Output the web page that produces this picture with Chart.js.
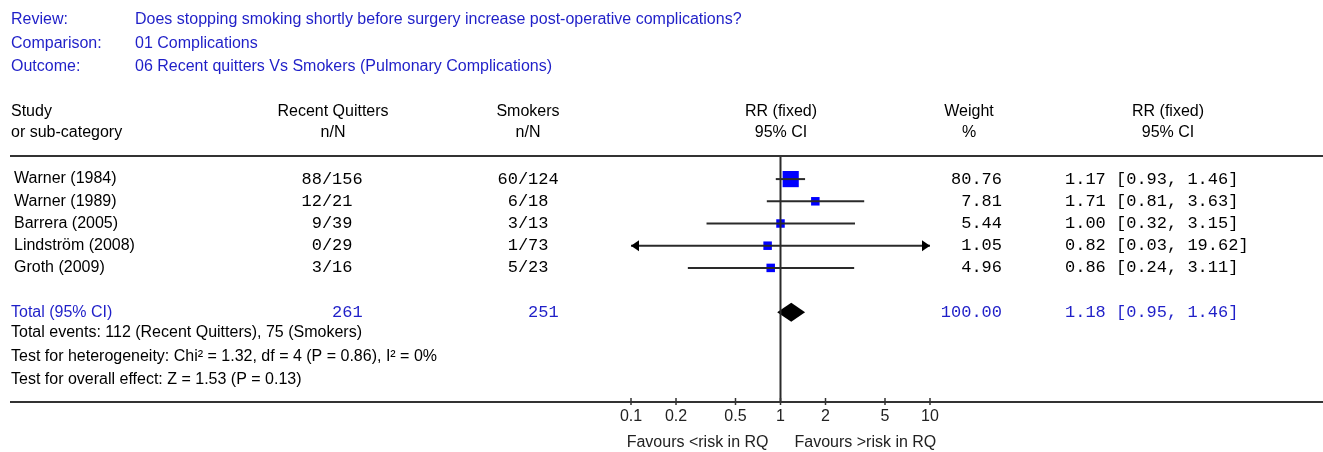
<!DOCTYPE html>
<html>
<head>
<meta charset="utf-8">
<script src="https://cdn.jsdelivr.net/npm/chart.js@4"></script>
<style>
  html, body { margin: 0; padding: 0; background: #fff; }
  canvas { display: block; }
</style>
</head>
<body>
<canvas id="chart" width="1323" height="452"></canvas>
<script>
// data
const studies = ["Warner (1984)", "Warner (1989)", "Barrera (2005)", "Lindström (2008)", "Groth (2009)"];
const rqEvents = [88, 12, 9, 0, 3];
const rqTotal = [156, 21, 39, 29, 16];
const smEvents = [60, 6, 3, 1, 5];
const smTotal = [124, 18, 13, 73, 23];
const rr = [1.17, 1.71, 1.00, 0.82, 0.86];
const ciLow = [0.93, 0.81, 0.32, 0.03, 0.24];
const ciHigh = [1.46, 3.63, 3.15, 19.62, 3.11];
const weights = [80.76, 7.81, 5.44, 1.05, 4.96];

const pooled = [1.18, 0.95, 1.46]; // RR, low, high
const pooledWeight = 100.00;
const axisTicks = [0.1, 0.2, 0.5, 1, 2, 5, 10];

const headerInfo = [
  ["Review:", "Does stopping smoking shortly before surgery increase post-operative complications?"],
  ["Comparison:", "01 Complications"],
  ["Outcome:", "06 Recent quitters Vs Smokers (Pulmonary Complications)"]
];
const footLines = [
  "Test for heterogeneity: Chi² = 1.32, df = 4 (P = 0.86), I² = 0%",
  "Test for overall effect: Z = 1.53 (P = 0.13)"
];

const BLUE = "#1f1fc8";
const SANS = '16px "Liberation Sans", Arial, sans-serif';
const MONO = '17px "Courier New", "Liberation Mono", monospace';
const TOTAL_ROW = 6;

const sum = a => a.reduce((s, v) => s + v, 0);

function boxRadius(w) {
  let side = Math.max(8.5, 18 * Math.sqrt(w / 100));
  return side / Math.SQRT2;
}

/* lines, diamond, arrows */
const forestPlugin = {
  id: "forest",
  beforeDraw(chart) {
    let ctx = chart.ctx;
    ctx.save();
    ctx.fillStyle = "#fff";
    ctx.fillRect(0, 0, chart.width, chart.height);
    ctx.restore();
  },
  afterDatasetsDraw(chart) {
    let ctx = chart.ctx;
    let xs = chart.scales.x, ys = chart.scales.y;
    let area = chart.chartArea;
    let minX = xs.getPixelForValue(xs.min), maxX = xs.getPixelForValue(xs.max);

    ctx.save();
    ctx.strokeStyle = "#2a2a2a";
    ctx.fillStyle = "#000";
    ctx.lineWidth = 2;

    // confidence intervals
    studies.forEach((s, i) => {
      let y = ys.getPixelForValue(i);
      let x1 = xs.getPixelForValue(Math.max(ciLow[i], xs.min));
      let x2 = xs.getPixelForValue(Math.min(ciHigh[i], xs.max));
      ctx.beginPath();
      ctx.moveTo(x1, y);
      ctx.lineTo(x2, y);
      ctx.stroke();
      if (ciLow[i] < xs.min) {
        ctx.beginPath();
        ctx.moveTo(minX, y);
        ctx.lineTo(minX + 8, y - 5.5);
        ctx.lineTo(minX + 8, y + 5.5);
        ctx.closePath();
        ctx.fill();
      }
      if (ciHigh[i] > xs.max) {
        ctx.beginPath();
        ctx.moveTo(maxX, y);
        ctx.lineTo(maxX - 8, y - 5.5);
        ctx.lineTo(maxX - 8, y + 5.5);
        ctx.closePath();
        ctx.fill();
      }
    });

    // pooled diamond
    let yt = ys.getPixelForValue(TOTAL_ROW);
    ctx.beginPath();
    ctx.moveTo(xs.getPixelForValue(pooled[1]), yt);
    ctx.lineTo(xs.getPixelForValue(pooled[0]), yt - 9.5);
    ctx.lineTo(xs.getPixelForValue(pooled[2]), yt);
    ctx.lineTo(xs.getPixelForValue(pooled[0]), yt + 9.5);
    ctx.closePath();
    ctx.fill();

    // line of no effect
    let x1 = xs.getPixelForValue(1);
    ctx.beginPath();
    ctx.moveTo(x1, area.top);
    ctx.lineTo(x1, area.bottom);
    ctx.stroke();

    // header rule and axis
    ctx.strokeStyle = "#333";
    ctx.lineWidth = 2;
    ctx.beginPath();
    ctx.moveTo(10, area.top);
    ctx.lineTo(chart.width, area.top);
    ctx.moveTo(10, area.bottom);
    ctx.lineTo(chart.width, area.bottom);
    ctx.stroke();

    ctx.lineWidth = 1.5;
    ctx.font = SANS;
    ctx.fillStyle = "#222";
    ctx.textAlign = "center";
    ctx.textBaseline = "middle";
    axisTicks.forEach(t => {
      let x = xs.getPixelForValue(t);
      ctx.beginPath();
      ctx.moveTo(x, area.bottom - 4);
      ctx.lineTo(x, area.bottom + 3);
      ctx.stroke();
      ctx.fillText(String(t), x, area.bottom + 15);
    });
    ctx.textAlign = "right";
    ctx.fillText("Favours <risk in RQ", x1 - 12, 443);
    ctx.textAlign = "left";
    ctx.fillText("Favours >risk in RQ", x1 + 14, 443);
    ctx.restore();
  },
  afterDraw(chart) {
    let ctx = chart.ctx;
    let ys = chart.scales.y;
    ctx.save();
    ctx.textBaseline = "middle";
    ctx.font = SANS;

    // review header
    ctx.fillStyle = BLUE;
    ctx.textAlign = "left";
    headerInfo.forEach((h, i) => {
      let y = 20 + i * 23.5;
      ctx.fillText(h[0], 11, y);
      ctx.fillText(h[1], 135, y);
    });

    // column headers
    ctx.fillStyle = "#000";
    ctx.fillText("Study", 11, 112);
    ctx.fillText("or sub-category", 11, 133);
    ctx.textAlign = "center";
    [["Recent Quitters", "n/N", 333], ["Smokers", "n/N", 528], ["RR (fixed)", "95% CI", 781],
     ["Weight", "%", 969], ["RR (fixed)", "95% CI", 1168]].forEach(c => {
      ctx.fillText(c[0], c[2], 112);
      ctx.fillText(c[1], c[2], 133);
    });

    // study rows
    const slashRQ = 327, slashSM = 523, half = 5.1;
    function nN(n, N, sx, y) {
      ctx.font = MONO;
      ctx.textAlign = "right";
      ctx.fillText(String(n), sx - half, y);
      ctx.textAlign = "center";
      ctx.fillText("/", sx, y);
      ctx.textAlign = "left";
      ctx.fillText(String(N), sx + half, y);
    }
    function ciText(r, lo, hi) {
      return r.toFixed(2) + " [" + lo.toFixed(2) + ", " + hi.toFixed(2) + "]";
    }
    studies.forEach((s, i) => {
      let y = ys.getPixelForValue(i);
      ctx.fillStyle = "#000";
      ctx.font = SANS;
      ctx.textAlign = "left";
      ctx.fillText(s, 14, y);
      nN(rqEvents[i], rqTotal[i], slashRQ, y);
      nN(smEvents[i], smTotal[i], slashSM, y);
      ctx.textAlign = "right";
      ctx.fillText(weights[i].toFixed(2), 1002, y);
      ctx.textAlign = "left";
      ctx.fillText(ciText(rr[i], ciLow[i], ciHigh[i]), 1065, y);
    });

    // total row
    let yt = ys.getPixelForValue(TOTAL_ROW);
    ctx.fillStyle = BLUE;
    ctx.font = SANS;
    ctx.textAlign = "left";
    ctx.fillText("Total (95% CI)", 11, yt);
    ctx.font = MONO;
    ctx.textAlign = "right";
    ctx.fillText(String(sum(rqTotal)), slashRQ + half + 30.6, yt);
    ctx.fillText(String(sum(smTotal)), slashSM + half + 30.6, yt);
    ctx.fillText(pooledWeight.toFixed(2), 1002, yt);
    ctx.textAlign = "left";
    ctx.fillText(ciText(pooled[0], pooled[1], pooled[2]), 1065, yt);

    // footnotes
    ctx.fillStyle = "#000";
    ctx.font = SANS;
    let foot = ["Total events: " + sum(rqEvents) + " (Recent Quitters), " + sum(smEvents) + " (Smokers)"].concat(footLines);
    foot.forEach((t, i) => ctx.fillText(t, 11, 333 + i * 23.5));
    ctx.restore();
  }
};

new Chart(document.getElementById("chart"), {
  type: "scatter",
  data: {
    datasets: [{
      data: rr.map((v, i) => ({ x: v, y: i })),
      pointStyle: "rect",
      pointRadius: weights.map(boxRadius),
      pointHoverRadius: weights.map(boxRadius),
      backgroundColor: "#0000ff",
      borderWidth: 0
    }]
  },
  options: {
    responsive: false,
    animation: false,
    devicePixelRatio: 1,
    layout: { padding: { left: 631, right: 393, top: 156, bottom: 50 } },
    plugins: { legend: { display: false }, tooltip: { enabled: false } },
    scales: {
      x: { type: "logarithmic", min: 0.1, max: 10, display: false },
      y: { type: "linear", min: -1.04, max: 10.04, reverse: true, display: false }
    }
  },
  plugins: [forestPlugin]
});
</script>
</body>
</html>
